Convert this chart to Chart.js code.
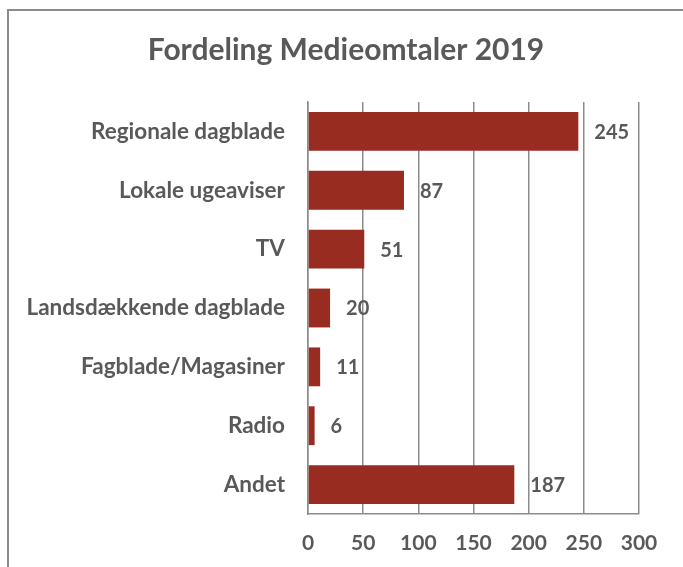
<!DOCTYPE html>
<html>
<head>
<meta charset="utf-8">
<title>Fordeling Medieomtaler 2019</title>
<script src="https://cdn.jsdelivr.net/npm/chart.js@4/dist/chart.umd.min.js"></script>
<style>
  html, body { margin: 0; padding: 0; background: #fff; overflow: hidden; }
  #frame { position: absolute; left: 7px; top: 9px; width: 720px; height: 620px; border: 2px solid #8c8c8c; }
  #chart { position: absolute; left: 0; top: 0; }
</style>
</head>
<body>
<div id="frame"></div>
<canvas id="chart" width="683" height="567"></canvas>
<script>
// data
var categories = [
    'Regionale dagblade',
    'Lokale ugeaviser',
    'TV',
    'Landsdækkende dagblade',
    'Fagblade/Magasiner',
    'Radio',
    'Andet'
];
var mentions = [245, 87, 51, 20, 11, 6, 187];
var axisMin = 0;
var axisMax = 300;
var axisStep = 50;

var textColor = '#595959';
var gridColor = '#8c8c8c';
var barColor = '#992c21';

// writes the value just right of each bar
var valueLabels = {
    id: 'valueLabels',
    afterDatasetsDraw: function (chart) {
        var ctx = chart.ctx;
        var meta = chart.getDatasetMeta(0);
        ctx.save();
        ctx.font = 'bold 20px Lato';
        ctx.fillStyle = textColor;
        ctx.textAlign = 'left';
        ctx.textBaseline = 'middle';
        meta.data.forEach(function (bar, i) {
            ctx.fillText(String(mentions[i]), bar.x + 16, bar.y + 1);
        });
        ctx.restore();
    }
};

new Chart(document.getElementById('chart'), {
    type: 'bar',
    data: {
        labels: categories,
        datasets: [{
            label: 'Medieomtaler',
            data: mentions,
            backgroundColor: barColor,
            borderWidth: 0,
            categoryPercentage: 1,
            barPercentage: 0.66
        }]
    },
    plugins: [valueLabels],
    options: {
        indexAxis: 'y',
        responsive: false,
        animation: false,
        layout: {
            padding: {left: 9, right: 0, top: 0, bottom: 0}
        },
        plugins: {
            legend: {display: false},
            tooltip: {enabled: false},
            title: {
                display: true,
                text: 'Fordeling Medieomtaler 2019',
                color: textColor,
                font: {family: 'Lato', size: 30, weight: 'bold', lineHeight: 1.2},
                padding: {top: 32, bottom: 34}
            }
        },
        scales: {
            x: {
                min: axisMin,
                max: axisMax,
                ticks: {
                    stepSize: axisStep,
                    color: textColor,
                    font: {family: 'Lato', size: 21, weight: 'bold'},
                    padding: 17
                },
                grid: {color: gridColor, lineWidth: 1.5, drawTicks: false},
                border: {display: true, color: gridColor, width: 1.5},
                afterFit: function (scale) { scale.height = 53; }
            },
            y: {
                ticks: {
                    color: textColor,
                    font: {family: 'Lato', size: 22.5, weight: 'bold'},
                    padding: 23
                },
                grid: {display: false, drawTicks: false},
                border: {display: true, color: gridColor, width: 1.5},
                afterFit: function (scale) { scale.width = 299; }
            },
            // empty right-hand axis, only keeps room on the right of the plot
            yRight: {
                type: 'category',
                position: 'right',
                ticks: {display: false},
                grid: {display: false, drawTicks: false},
                border: {display: false},
                afterFit: function (scale) { scale.width = 44; }
            }
        }
    }
});
</script>
</body>
</html>
